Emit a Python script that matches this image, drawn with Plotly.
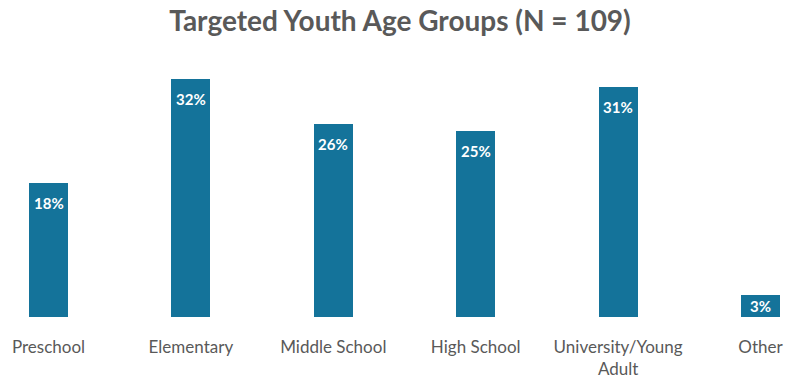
import plotly.graph_objects as go

categories = ["Preschool", "Elementary", "Middle School", "High School",
              "University/Young<br>Adult", "Other"]
percent = [18, 32, 26, 25, 31, 3]
labels = [f"{v}%" for v in percent]

BAR_COLOR = "#14739A"
TEXT_GRAY = "#595959"
FONT = "Lato"

x_pos = list(range(len(categories)))

fig = go.Figure()
fig.add_trace(go.Bar(
    x=x_pos,
    y=percent,
    width=0.274,
    marker=dict(color=BAR_COLOR, line=dict(width=0)),
    hoverinfo="skip",
))

# value labels sit a fixed distance below the bar top, or centred in short bars
for xi, v, t in zip(x_pos, percent, labels):
    fig.add_annotation(
        x=xi, y=max(v - 2.7, v / 2), text=f"<b>{t}</b>",
        showarrow=False, yanchor="middle", xanchor="center",
        font=dict(family=FONT, size=15, color="white"),
    )

fig.update_layout(
    width=785, height=379,
    margin=dict(l=0, r=0, t=60, b=60),
    paper_bgcolor="white", plot_bgcolor="white",
    showlegend=False,
    bargap=0,
    title=dict(
        text="<b>Targeted Youth Age Groups (N = 109)</b>",
        x=400 / 785, xanchor="center", y=1 - 21 / 379, yanchor="middle",
        font=dict(family=FONT, size=28, color=TEXT_GRAY),
    ),
    font=dict(family=FONT, color=TEXT_GRAY),
)
fig.update_xaxes(
    range=[-0.3406, 5.172],
    tickmode="array", tickvals=x_pos, ticktext=categories,
    tickfont=dict(family=FONT, size=17, color=TEXT_GRAY),
    showgrid=False, zeroline=False, showline=False, ticks="",
    ticklabelstandoff=18,
)
fig.update_yaxes(
    range=[0, 34.58], visible=False, showgrid=False, zeroline=False,
)

fig.write_html("out.html")
